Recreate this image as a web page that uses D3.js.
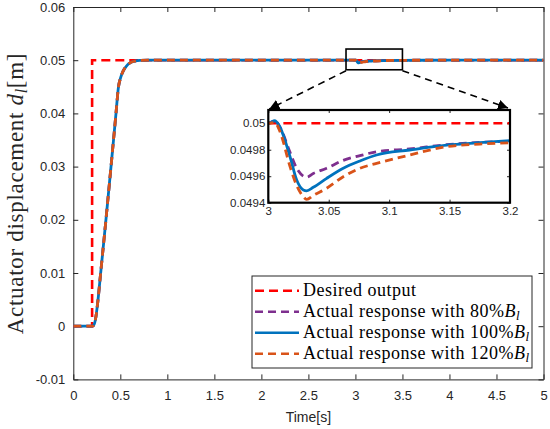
<!DOCTYPE html>
<html>
<head>
<meta charset="utf-8">
<script src="https://d3js.org/d3.v7.min.js"></script>
<style>
  body { margin: 0; background: #fff; }
  .tick text { font-family: "Liberation Sans", Arial, sans-serif; fill: #262626; }
</style>
</head>
<body>
<div id="chart"></div>
<script>
// ---- data ----
var desiredT = [0, 0.2, 0.2, 5];
var desiredY = [0, 0, 0.05, 0.05];

// rise (same for all three responses at this scale)
var riseT = [0, 0.19, 0.213, 0.235, 0.26, 0.291, 0.347, 0.401, 0.454, 0.479, 0.505, 0.531, 0.565, 0.603, 0.65, 0.709, 0.8, 1.5, 2.99];
var riseY = [0, 0, 0.0001, 0.0012, 0.0045, 0.01, 0.02, 0.03, 0.04, 0.0448, 0.0468, 0.048, 0.0489, 0.0495, 0.0498, 0.04997, 0.05, 0.05, 0.05];

// disturbance around t = 3 s
var dipT = [3.0, 3.0055, 3.0097, 3.018, 3.0235, 3.029, 3.0317, 3.0372, 3.0483, 3.062, 3.0758, 3.0896, 3.117, 3.1475, 3.175, 3.2];
var dip80 = [0.05, 0.050019, 0.04997, 0.04978, 0.04966, 0.0496, 0.049592, 0.04962, 0.04966, 0.04972, 0.049755, 0.049785, 0.049806, 0.049838, 0.049855, 0.049865];
var dip100 = [0.05, 0.050019, 0.04997, 0.049747, 0.049571, 0.049496, 0.04949, 0.049516, 0.049584, 0.04966, 0.049715, 0.04976, 0.049798, 0.049835, 0.049853, 0.049868];
var dip120 = [0.05, 0.050005, 0.049936, 0.049672, 0.04953, 0.049445, 0.049425, 0.049455, 0.049509, 0.049596, 0.04966, 0.049697, 0.04976, 0.049823, 0.049843, 0.049853];

var tailT = [3.3, 3.5, 4, 5];
var tailY = [0.04993, 0.04998, 0.05, 0.05];

var xTicks = [0, 0.5, 1, 1.5, 2, 2.5, 3, 3.5, 4, 4.5, 5];
var yTicks = [-0.01, 0, 0.01, 0.02, 0.03, 0.04, 0.05, 0.06];
var inXTicks = [3, 3.05, 3.1, 3.15, 3.2];
var inYTicks = [0.0494, 0.0496, 0.0498, 0.05];
var zoomBox = [2.9, 3.5, 0.0482, 0.0521];

var names = ["Desired output", "Actual response with 80%", "Actual response with 100%", "Actual response with 120%"];
var colors = ["#FF0000", "#7E2F8E", "#0072BD", "#D95319"];

function pts(t, y) { return t.map(function (v, i) { return [v, y[i]]; }); }
function response(dip) {
  return pts(riseT, riseY).concat(pts(dipT, dip)).concat(pts(tailT, tailY));
}
var series = [
  pts(desiredT, desiredY),
  response(dip80),
  response(dip100),
  response(dip120)
];
var dashes = ["9,5", "8,5", null, "8,5"];
var fmt = function (d) { return String(d); };

// ---- layout ----
var W = 550, H = 429;
var svg = d3.select("#chart").append("svg").attr("width", W).attr("height", H);

var defs = svg.append("defs");
defs.append("marker").attr("id", "arr")
  .attr("viewBox", "0 0 10 10").attr("refX", 10).attr("refY", 5)
  .attr("markerWidth", 10).attr("markerHeight", 10)
  .attr("markerUnits", "userSpaceOnUse").attr("orient", "auto")
  .append("path").attr("d", "M0,0 L10,5 L0,10 z").attr("fill", "#000");

var x = d3.scaleLinear().domain([0, 5]).range([73.3, 543.5]);
var y = d3.scaleLinear().domain([-0.01, 0.06]).range([379.4, 7]);

var g = svg.append("g");

// main axes
var axB = g.append("g").attr("transform", "translate(0," + y(-0.01) + ")")
  .call(d3.axisBottom(x).tickValues(xTicks).tickSizeInner(-5).tickSizeOuter(0).tickPadding(11).tickFormat(fmt));
var axL = g.append("g").attr("transform", "translate(" + x(0) + ",0)")
  .call(d3.axisLeft(y).tickValues(yTicks).tickSizeInner(-5).tickSizeOuter(0).tickPadding(8).tickFormat(fmt));
var axT = g.append("g").attr("transform", "translate(0," + y(0.06) + ")")
  .call(d3.axisTop(x).tickValues(xTicks).tickSizeInner(-5).tickSizeOuter(0).tickFormat(""));
var axR = g.append("g").attr("transform", "translate(" + x(5) + ",0)")
  .call(d3.axisRight(y).tickValues(yTicks).tickSizeInner(-5).tickSizeOuter(0).tickFormat(""));
[axB, axL, axT, axR].forEach(function (a) {
  a.select(".domain").attr("stroke", "#262626").attr("stroke-width", 1);
  a.selectAll(".tick line").attr("stroke", "#262626");
  a.selectAll(".tick text").attr("font-size", 13);
});

var line = d3.line().x(function (d) { return x(d[0]); }).y(function (d) { return y(d[1]); });
var smooth = d3.line().curve(d3.curveMonotoneX).x(function (d) { return x(d[0]); }).y(function (d) { return y(d[1]); });

g.append("clipPath").attr("id", "mainclip").append("rect")
  .attr("x", x(0)).attr("y", y(0.06)).attr("width", x(5) - x(0)).attr("height", y(-0.01) - y(0.06));

var plot = g.append("g").attr("clip-path", "url(#mainclip)");
series.forEach(function (s, i) {
  plot.append("path").datum(s)
    .attr("d", i === 0 ? line : smooth)
    .attr("fill", "none").attr("stroke", colors[i])
    .attr("stroke-width", i === 0 ? 2.6 : 2.8)
    .attr("stroke-dasharray", dashes[i]);
});

// zoom box in main axes
g.append("rect")
  .attr("x", x(zoomBox[0])).attr("y", y(zoomBox[3]))
  .attr("width", x(zoomBox[1]) - x(zoomBox[0])).attr("height", y(zoomBox[2]) - y(zoomBox[3]))
  .attr("fill", "none").attr("stroke", "#000").attr("stroke-width", 1.6);

// axis labels
svg.append("text").attr("x", (x(0) + x(5)) / 2).attr("y", 422)
  .attr("text-anchor", "middle").attr("font-family", "Liberation Sans, Arial, sans-serif")
  .attr("font-size", 14).attr("fill", "#262626").text("Time[s]");

var yl = svg.append("text").attr("transform", "translate(23," + 193.5 + ") rotate(-90)")
  .attr("text-anchor", "middle").attr("font-family", "Liberation Serif, serif")
  .attr("font-size", 23).attr("letter-spacing", 0.7).attr("fill", "#262626");
yl.append("tspan").text("Actuator displacement ");
yl.append("tspan").attr("font-style", "italic").text("d");
yl.append("tspan").attr("font-style", "italic").attr("font-size", 16).attr("dy", 4).text("l");
yl.append("tspan").attr("dy", -4).text("[m]");

// ---- inset ----
var ix = d3.scaleLinear().domain([3, 3.2]).range([268.3, 510]);
var iy = d3.scaleLinear().domain([0.0494, 0.0501]).range([202.7, 110]);

var ig = svg.append("g");
ig.append("rect").attr("x", ix(3)).attr("y", iy(0.0501))
  .attr("width", ix(3.2) - ix(3)).attr("height", iy(0.0494) - iy(0.0501))
  .attr("fill", "#fff");

var iB = ig.append("g").attr("transform", "translate(0," + iy(0.0494) + ")")
  .call(d3.axisBottom(ix).tickValues(inXTicks).tickSizeInner(-3).tickSizeOuter(0).tickPadding(4).tickFormat(fmt));
var iL = ig.append("g").attr("transform", "translate(" + ix(3) + ",0)")
  .call(d3.axisLeft(iy).tickValues(inYTicks).tickSizeInner(-3).tickSizeOuter(0).tickPadding(3).tickFormat(fmt));
var iT = ig.append("g").attr("transform", "translate(0," + iy(0.0501) + ")")
  .call(d3.axisTop(ix).tickValues(inXTicks).tickSizeInner(-3).tickSizeOuter(0).tickFormat(""));
var iR = ig.append("g").attr("transform", "translate(" + ix(3.2) + ",0)")
  .call(d3.axisRight(iy).tickValues(inYTicks).tickSizeInner(-3).tickSizeOuter(0).tickFormat(""));
[iB, iL, iT, iR].forEach(function (a) {
  a.select(".domain").attr("stroke", "none");
  a.selectAll(".tick line").attr("stroke", "#262626");
  a.selectAll(".tick text").attr("font-size", 11.5);
});

ig.append("clipPath").attr("id", "inclip").append("rect")
  .attr("x", ix(3)).attr("y", iy(0.0501)).attr("width", ix(3.2) - ix(3)).attr("height", iy(0.0494) - iy(0.0501));

var iline = d3.line().curve(d3.curveMonotoneX).x(function (d) { return ix(d[0]); }).y(function (d) { return iy(d[1]); });
var iplot = ig.append("g").attr("clip-path", "url(#inclip)");
series.forEach(function (s, i) {
  iplot.append("path").datum(s)
    .attr("d", iline)
    .attr("fill", "none").attr("stroke", colors[i])
    .attr("stroke-width", i === 0 ? 2.6 : 2.8)
    .attr("stroke-dasharray", dashes[i]);
});
ig.append("rect").attr("x", ix(3)).attr("y", iy(0.0501))
  .attr("width", ix(3.2) - ix(3)).attr("height", iy(0.0494) - iy(0.0501))
  .attr("fill", "none").attr("stroke", "#000").attr("stroke-width", 2.2);

// dashed arrows from zoom box to inset
var arrows = [
  [[x(zoomBox[0]), y(zoomBox[2]) + 1], [ix(3) + 1, iy(0.0501) - 1]],
  [[x(zoomBox[1]), y(zoomBox[2]) + 1], [ix(3.2) - 2, iy(0.0501) - 2]]
];
arrows.forEach(function (a) {
  svg.append("line")
    .attr("x1", a[0][0]).attr("y1", a[0][1]).attr("x2", a[1][0]).attr("y2", a[1][1])
    .attr("stroke", "#000").attr("stroke-width", 1.6).attr("stroke-dasharray", "7,5")
    .attr("marker-end", "url(#arr)");
});

// ---- legend ----
var lg = svg.append("g");
lg.append("rect").attr("x", 252).attr("y", 276).attr("width", 280).attr("height", 92)
  .attr("fill", "#fff").attr("stroke", "#262626").attr("stroke-width", 1);
names.forEach(function (n, i) {
  var cy = 290.7 + i * 21;
  lg.append("line").attr("x1", 255).attr("x2", 299).attr("y1", cy).attr("y2", cy)
    .attr("stroke", colors[i]).attr("stroke-width", 2.6)
    .attr("stroke-dasharray", dashes[i]);
  var t = lg.append("text").attr("x", 303).attr("y", cy + 5.5)
    .attr("font-family", "Liberation Serif, serif").attr("font-size", 18)
    .attr("letter-spacing", 0.5).attr("fill", "#000");
  t.append("tspan").text(n);
  if (i > 0) {
    t.append("tspan").attr("font-style", "italic").text("B");
    t.append("tspan").attr("font-style", "italic").attr("font-size", 13).attr("dy", 3).text("l");
  }
});
</script>
</body>
</html>
